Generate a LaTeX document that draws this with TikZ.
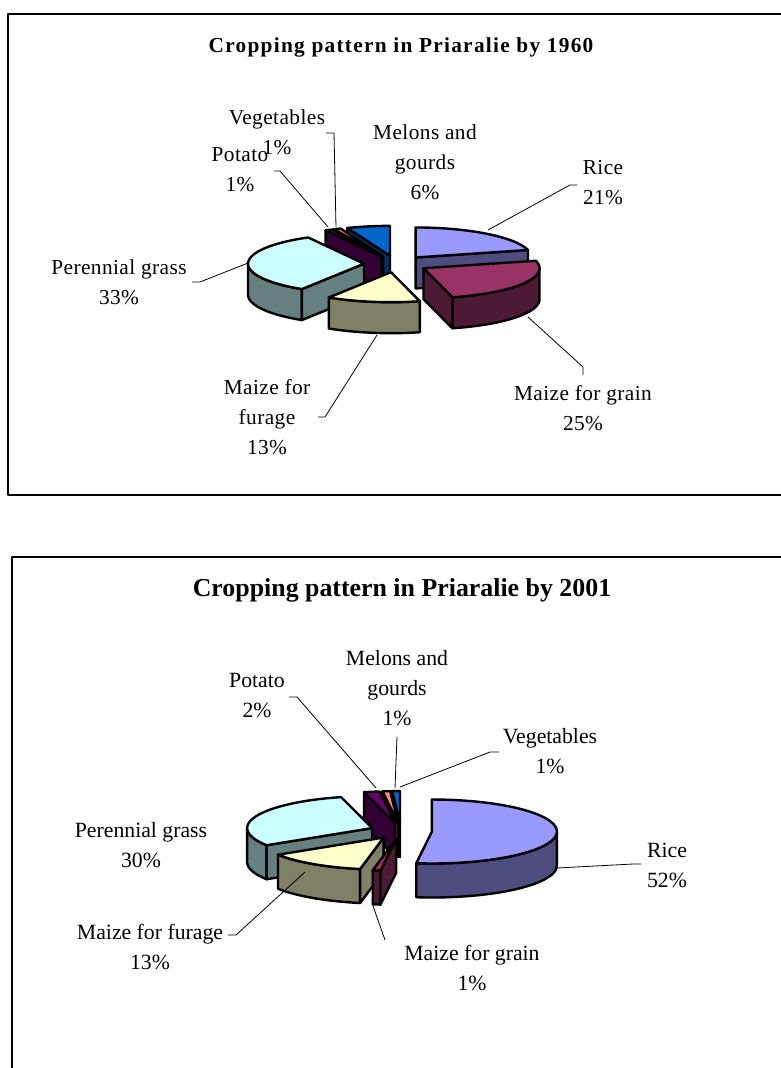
\documentclass[tikz,border=0pt]{standalone}
\usepackage{fontspec}
\setmainfont{Liberation Serif}
\newfontfamily\spacedfont[LetterSpace=2]{Liberation Serif}
\newfontfamily\titlefont[LetterSpace=6]{Liberation Serif}

\definecolor{ricetop}{HTML}{9999FF}
\definecolor{riceside}{HTML}{4D4D80}
\definecolor{graintop}{HTML}{993366}
\definecolor{grainside}{HTML}{4D1A33}
\definecolor{furtop}{HTML}{FFFFCC}
\definecolor{furside}{HTML}{808066}
\definecolor{grasstop}{HTML}{CCFFFF}
\definecolor{grassside}{HTML}{668080}
\definecolor{pottop}{HTML}{660066}
\definecolor{potside}{HTML}{330033}
\definecolor{salmontop}{HTML}{FF8080}
\definecolor{salmonside}{HTML}{804040}
\definecolor{bluetop}{HTML}{0066CC}
\definecolor{blueside}{HTML}{003366}

\tikzset{
  slice/.style={draw=black, line width=1.8pt, line join=round},
  leader/.style={line width=0.6pt},
  box/.style={line width=1.5pt},
  lbl/.style={align=center, inner sep=0pt, font=\fontsize{16.3}{22.5}\selectfont},
  oldlbl/.style={align=center, inner sep=0pt, font=\spacedfont\fontsize{16}{22.5}\selectfont},
  oldtitle/.style={inner sep=0pt, font=\titlefont\bfseries\fontsize{16}{20}\selectfont},
  newtitle/.style={inner sep=0pt, font=\bfseries\fontsize{19.4}{24}\selectfont}
}

% one exploded slice: #1,#2 pie centre, #3,#4 angles (clockwise from top), #5 top, #6 side
\newcommand{\pieslice}[6]{%
  \pgfmathsetmacro\smid{(#3+#4)/2}
  \pgfmathsetmacro\slx{#1+\pex*sin(\smid)}
  \pgfmathsetmacro\sly{#2-\pex*\prb/\pra*cos(\smid)}
  \pgfmathsetmacro\ua{max(#3,90)}
  \pgfmathsetmacro\ub{min(#4,270)}
  \ifdim\ua pt<\ub pt
    \filldraw[slice,fill=#6] plot[domain=\ua:\ub,samples=40] ({\slx+\pra*sin(\x)},{\sly-\prb*cos(\x)})
      -- plot[domain=\ub:\ua,samples=40] ({\slx+\pra*sin(\x)},{\sly+\pdep-\prb*cos(\x)}) -- cycle;
  \fi
  \pgfmathsetmacro\sinA{sin(#3)}
  \ifdim\sinA pt<-0.001pt
    \filldraw[slice,fill=#6] (\slx,\sly) -- ++({\pra*sin(#3)},{-\prb*cos(#3)}) -- ++(0,\pdep) -- ({\slx},{\sly+\pdep}) -- cycle;
  \fi
  \pgfmathsetmacro\sinB{sin(#4)}
  \ifdim\sinB pt>0.001pt
    \filldraw[slice,fill=#6] (\slx,\sly) -- ++({\pra*sin(#4)},{-\prb*cos(#4)}) -- ++(0,\pdep) -- ({\slx},{\sly+\pdep}) -- cycle;
  \fi
  \filldraw[slice,fill=#5] (\slx,\sly) -- plot[domain=#3:#4,samples=40] ({\slx+\pra*sin(\x)},{\sly-\prb*cos(\x)}) -- cycle;
}

\begin{document}
\begin{tikzpicture}[x=0.75pt,y=-0.75pt, line join=round]
  \useasboundingbox (0,0) rectangle (781,1068);
  \clip (0,0) rectangle (781,1068);
  % frames
  \draw[box] (800,14) -- (8,14) -- (8,495) -- (800,495);
  \draw[box] (800,557) -- (12,557) -- (12,1090);

  % ---- 1960 ----
  \node[oldtitle] (title1) at (401,47) {Cropping pattern in Priaralie by 1960};
  \def\pra{116}\def\prb{30}\def\pdep{31}\def\pex{32}
  \pieslice{396}{264}{338.4}{360}{bluetop}{blueside}
  \pieslice{396}{264}{334.8}{338.4}{salmontop}{salmonside}
  \pieslice{396}{264}{331.2}{334.8}{pottop}{potside}
  \pieslice{396}{264}{0}{75.6}{ricetop}{riceside}
  \pieslice{396}{264}{212.4}{331.2}{grasstop}{grassside}
  \pieslice{396}{264}{75.6}{165.6}{graintop}{grainside}
  \pieslice{396}{264}{165.6}{212.4}{furtop}{furside}

  \node[oldlbl] (veg1) at (277,132) {Vegetables\\1\%};
  \node[oldlbl] (pot1) at (240,170) {Potato\\1\%};
  \node[oldlbl] (mel1) at (425,162) {Melons and\\gourds\\6\%};
  \node[oldlbl] (rice1) at (603,183) {Rice\\21\%};
  \node[oldlbl] (grain1) at (583,408) {Maize for grain\\25\%};
  \node[oldlbl] (grass1) at (119,282) {Perennial grass\\33\%};
  \node[oldlbl] (fur1) at (267,417) {Maize for\\furage\\13\%};

  \coordinate (veg1a) at (326,133);  \coordinate (veg1b) at (336,227);
  \coordinate (pot1a) at (274,171);  \coordinate (pot1b) at (328,227);
  \coordinate (rice1a) at (577,185); \coordinate (rice1b) at (488,230);
  \coordinate (grain1a) at (583,375); \coordinate (grain1b) at (528,317);
  \coordinate (grass1a) at (192,282); \coordinate (grass1b) at (248,263);
  \coordinate (fur1a) at (318,417);  \coordinate (fur1b) at (377,335);
  \draw[leader] (veg1a) -- ++(8,0) -- (veg1b);
  \draw[leader] (pot1a) -- ++(6,0) -- (pot1b);
  \draw[leader] (rice1a) -- ++(-7,0) -- (rice1b);
  \draw[leader] (grain1a) -- ++(0,-8) -- (grain1b);
  \draw[leader] (grass1a) -- ++(8,0) -- (grass1b);
  \draw[leader] (fur1a) -- ++(7,0) -- (fur1b);

  % ---- 2001 ----
  \node[newtitle] (title2) at (402,590) {Cropping pattern in Priaralie by 2001};
  \def\pra{125}\def\prb{32}\def\pdep{34}\def\pex{31}
  \pieslice{401}{831}{356.4}{360}{bluetop}{blueside}
  \pieslice{401}{831}{352.8}{356.4}{salmontop}{salmonside}
  \pieslice{401}{831}{345.6}{352.8}{pottop}{potside}
  \pieslice{401}{831}{237.6}{345.6}{grasstop}{grassside}
  \pieslice{401}{831}{0}{187.2}{ricetop}{riceside}
  \pieslice{401}{831}{190.8}{237.6}{furtop}{furside}
  \pieslice{401}{831}{187.2}{190.8}{graintop}{grainside}

  \node[lbl] (pot2) at (257,696) {Potato\\2\%};
  \node[lbl] (mel2) at (397,688) {Melons and\\gourds\\1\%};
  \node[lbl] (veg2) at (550,751) {Vegetables\\1\%};
  \node[lbl] (rice2) at (667,865) {Rice\\52\%};
  \node[lbl] (grain2) at (472,968) {Maize for grain\\1\%};
  \node[lbl] (fur2) at (150,947) {Maize for furage\\13\%};
  \node[lbl] (grass2) at (141,845) {Perennial grass\\30\%};

  \coordinate (pot2a) at (289,697);  \coordinate (pot2b) at (376,788);
  \coordinate (mel2a) at (397,737);  \coordinate (mel2b) at (395,788);
  \coordinate (veg2a) at (499,752);  \coordinate (veg2b) at (400,787);
  \coordinate (rice2a) at (641,864); \coordinate (rice2b) at (557,868);
  \coordinate (grain2a) at (385,940); \coordinate (grain2b) at (372,903);
  \coordinate (fur2a) at (228,935);  \coordinate (fur2b) at (305,872);
  \draw[leader] (pot2a) -- ++(8,0) -- (pot2b);
  \draw[leader] (mel2a) -- (mel2b);
  \draw[leader] (veg2a) -- ++(-9,0) -- (veg2b);
  \draw[leader] (rice2a) -- ++(-8,0) -- (rice2b);
  \draw[leader] (grain2a) -- (grain2b);
  \draw[leader] (fur2a) -- ++(8,0) -- (fur2b);
\end{tikzpicture}
\end{document}
